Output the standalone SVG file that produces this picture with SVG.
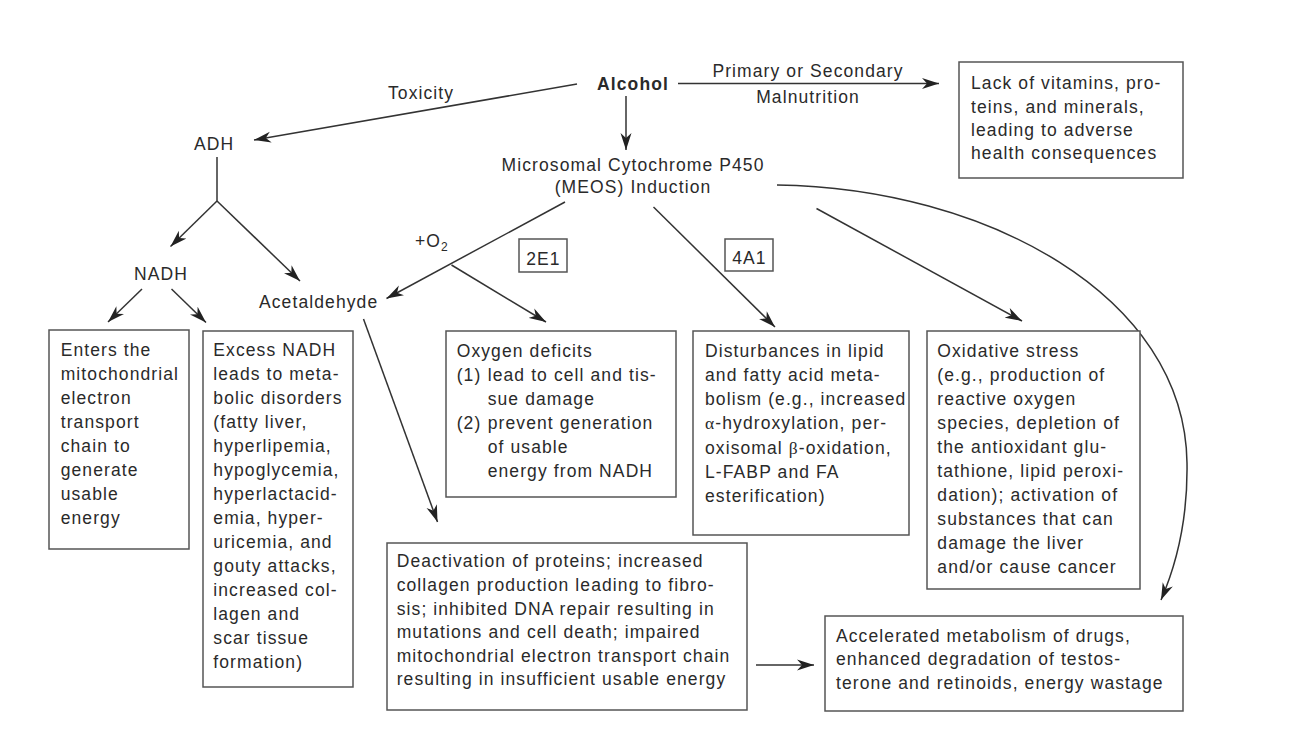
<svg xmlns="http://www.w3.org/2000/svg" width="1295" height="733" viewBox="0 0 1295 733">
<defs>
<style>
text{font-family:"Liberation Sans",Arial,sans-serif;font-size:17.5px;letter-spacing:1.1px;fill:#2a2a2a}
.b{font-weight:bold}
.m{text-anchor:middle}
.box{fill:#fff;stroke:#555;stroke-width:1.5}
.c{fill:none;stroke:#333;stroke-width:1.5}
.a{marker-end:url(#ah)}
.g{font-family:"Liberation Serif","Times New Roman",serif}
</style>
<marker id="ah" viewBox="-17 -6 17 12" refX="0" refY="0" markerWidth="17" markerHeight="12" markerUnits="userSpaceOnUse" orient="auto">
<path d="M0,0 L-17,-5.5 L-12,0 L-17,5.5 Z" fill="#222"/>
</marker>
</defs>
<rect width="1295" height="733" fill="#fff"/>

<g id="connectors">
<line class="c a" x1="577" y1="84" x2="254" y2="140"/>
<line class="c a" x1="626" y1="96" x2="626" y2="150"/>
<line class="c a" x1="678" y1="83.5" x2="939" y2="83.5"/>
<polyline class="c" points="217,157 217,201"/>
<line class="c a" x1="217" y1="201" x2="170.5" y2="246.5"/>
<line class="c a" x1="217" y1="201" x2="300" y2="281"/>
<line class="c a" x1="142" y1="289" x2="108" y2="322"/>
<line class="c a" x1="171.5" y1="289" x2="206" y2="322.5"/>
<line class="c a" x1="363.5" y1="319" x2="437.5" y2="522"/>
<line class="c a" x1="565" y1="202" x2="386.5" y2="298.5"/>
<line class="c a" x1="451.5" y1="265" x2="546" y2="322"/>
<line class="c a" x1="653.5" y1="207" x2="775" y2="327"/>
<line class="c a" x1="816.5" y1="208.5" x2="1022" y2="321"/>
<path class="c a" d="M777,185 C985,188 1185,295 1187,463 C1188,525 1174,570 1161,600"/>
<line class="c a" x1="756" y1="665" x2="814" y2="665"/>
</g>

<g id="alcohol"><text class="b m" x="633" y="89.5">Alcohol</text></g>
<g id="toxicity-label"><text x="388" y="99.3">Toxicity</text></g>
<g id="malnutrition-label">
<text class="m" x="808" y="76.7">Primary or Secondary</text>
<text class="m" x="808" y="103">Malnutrition</text>
</g>
<g id="adh"><text x="194" y="150">ADH</text></g>
<g id="meos">
<text class="m" x="633" y="170.7">Microsomal Cytochrome P450</text>
<text class="m" x="633" y="193.3">(MEOS) Induction</text>
</g>
<g id="nadh"><text x="134" y="280">NADH</text></g>
<g id="acetaldehyde"><text x="259" y="308.3">Acetaldehyde</text></g>
<g id="o2-label"><text x="415" y="246.7">+O<tspan font-size="12" dy="4">2</tspan></text></g>
<g id="tag-2e1"><rect class="box" x="519" y="239" width="48" height="33"/><text class="m" x="543.5" y="264.5">2E1</text></g>
<g id="tag-4a1"><rect class="box" x="725" y="239" width="48" height="32"/><text class="m" x="749.5" y="263.5">4A1</text></g>

<g id="lack">
<rect class="box" x="959" y="62" width="224" height="116"/>
<text x="971" y="89.3">Lack of vitamins, pro-</text>
<text x="971" y="112.6">teins, and minerals,</text>
<text x="971" y="135.9">leading to adverse</text>
<text x="971" y="159.2">health consequences</text>
</g>

<g id="enters">
<rect class="box" x="49" y="330" width="140" height="219"/>
<text x="60.7" y="356.3">Enters the</text>
<text x="60.7" y="380.3">mitochondrial</text>
<text x="60.7" y="404.3">electron</text>
<text x="60.7" y="428.3">transport</text>
<text x="60.7" y="452.3">chain to</text>
<text x="60.7" y="476.3">generate</text>
<text x="60.7" y="500.3">usable</text>
<text x="60.7" y="524.3">energy</text>
</g>

<g id="excess">
<rect class="box" x="203" y="331" width="150" height="356"/>
<text x="213.3" y="356.3">Excess NADH</text>
<text x="213.3" y="380.3">leads to meta-</text>
<text x="213.3" y="404.3">bolic disorders</text>
<text x="213.3" y="428.3">(fatty liver,</text>
<text x="213.3" y="452.3">hyperlipemia,</text>
<text x="213.3" y="476.3">hypoglycemia,</text>
<text x="213.3" y="500.3">hyperlactacid-</text>
<text x="213.3" y="524.3">emia, hyper-</text>
<text x="213.3" y="548.3">uricemia, and</text>
<text x="213.3" y="572.3">gouty attacks,</text>
<text x="213.3" y="596.3">increased col-</text>
<text x="213.3" y="620.3">lagen and</text>
<text x="213.3" y="644.3">scar tissue</text>
<text x="213.3" y="668.3">formation)</text>
</g>

<g id="oxygen">
<rect class="box" x="446" y="331" width="230" height="166"/>
<text x="456.7" y="356.7">Oxygen deficits</text>
<text x="456.7" y="380.7">(1)</text><text x="487.7" y="380.7">lead to cell and tis-</text>
<text x="487.7" y="404.7">sue damage</text>
<text x="456.7" y="428.7">(2)</text><text x="487.7" y="428.7">prevent generation</text>
<text x="487.7" y="452.7">of usable</text>
<text x="487.7" y="476.7">energy from NADH</text>
</g>

<g id="lipid">
<rect class="box" x="693" y="331" width="216" height="204"/>
<text x="705" y="356.7">Disturbances in lipid</text>
<text x="705" y="380.9">and fatty acid meta-</text>
<text x="705" y="405.1">bolism (e.g., increased</text>
<text x="705" y="429.3"><tspan class="g">α</tspan>-hydroxylation, per-</text>
<text x="705" y="453.5">oxisomal <tspan class="g">β</tspan>-oxidation,</text>
<text x="705" y="477.7">L-FABP and FA</text>
<text x="705" y="501.9">esterification)</text>
</g>

<g id="oxidative">
<rect class="box" x="927" y="331" width="213" height="258"/>
<text x="937.3" y="356.7">Oxidative stress</text>
<text x="937.3" y="380.7">(e.g., production of</text>
<text x="937.3" y="404.7">reactive oxygen</text>
<text x="937.3" y="428.7">species, depletion of</text>
<text x="937.3" y="452.7">the antioxidant glu-</text>
<text x="937.3" y="476.7">tathione, lipid peroxi-</text>
<text x="937.3" y="500.7">dation); activation of</text>
<text x="937.3" y="524.7">substances that can</text>
<text x="937.3" y="548.7">damage the liver</text>
<text x="937.3" y="572.7">and/or cause cancer</text>
</g>

<g id="deactivation">
<rect class="box" x="387" y="543" width="360" height="167"/>
<text x="396.7" y="567.3">Deactivation of proteins; increased</text>
<text x="396.7" y="590.9">collagen production leading to fibro-</text>
<text x="396.7" y="614.5">sis; inhibited DNA repair resulting in</text>
<text x="396.7" y="638.1">mutations and cell death; impaired</text>
<text x="396.7" y="661.7">mitochondrial electron transport chain</text>
<text x="396.7" y="685.3">resulting in insufficient usable energy</text>
</g>

<g id="accelerated">
<rect class="box" x="825" y="616" width="358" height="95"/>
<text x="836" y="641.7">Accelerated metabolism of drugs,</text>
<text x="836" y="665.3">enhanced degradation of testos-</text>
<text x="836" y="688.9">terone and retinoids, energy wastage</text>
</g>
</svg>
